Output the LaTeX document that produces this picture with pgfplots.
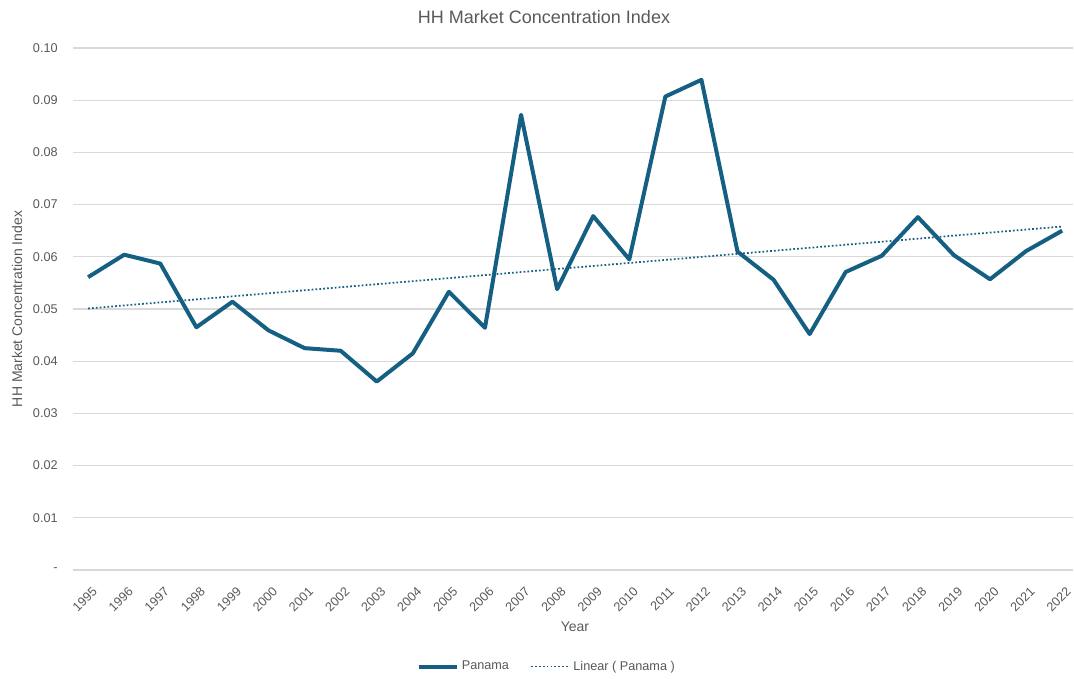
\documentclass[border=0pt]{standalone}
\usepackage{pgfplots}
\pgfplotsset{compat=1.18}
\usepackage{fontspec}
\setmainfont{Liberation Sans}
\definecolor{linec}{HTML}{156082}
\definecolor{gridc}{HTML}{D9D9D9}
\definecolor{txt}{HTML}{595959}
\begin{document}
\begin{tikzpicture}[x=0.75pt,y=0.75pt]
\useasboundingbox (-73,-108) rectangle (1001,570);
\begin{axis}[
  at={(0pt,0pt)}, anchor=south west,
  scale only axis, width=750pt, height=391.5pt,
  xmin=1994.58, xmax=2022.3,
  ymin=0, ymax=0.1,
  axis x line*=bottom,
  axis y line*=left,
  x axis line style={gridc, line width=0.8pt, -},
  y axis line style={draw=none},
  xtick={1995,...,2022},
  xticklabels={1995,1996,1997,1998,1999,2000,2001,2002,2003,2004,2005,2006,2007,2008,2009,2010,2011,2012,2013,2014,2015,2016,2017,2018,2019,2020,2021,2022},
  ytick={0,0.01,0.02,0.03,0.04,0.05,0.06,0.07,0.08,0.09,0.1},
  yticklabels={-,0.01,0.02,0.03,0.04,0.05,0.06,0.07,0.08,0.09,0.10},
  major tick length=0pt,
  ymajorgrids, grid style={gridc, line width=0.8pt},
  tick label style={font=\fontsize{9.5}{11}\selectfont, text=txt},
  xticklabel style={xshift=2.5pt, yshift=-7pt, rotate=45, anchor=north east},
  yticklabel style={xshift=-8pt},
  /pgf/number format/assume math mode=true,
  title={HH Market Concentration Index},
  title style={font=\fontsize{13.5}{16}\selectfont, text=txt, at={(axis description cs:0.471,1)}, anchor=base, yshift=12pt},
  xlabel={Year},
  xlabel style={font=\fontsize{10.5}{12}\selectfont, text=txt, at={(axis description cs:0.502,0)}, anchor=base, yshift=-46pt},
  ylabel={HH Market Concentration Index},
  ylabel style={font=\fontsize{10.5}{12}\selectfont, text=txt, at={(axis description cs:-0.056,0.5)}, anchor=center},
  legend style={draw=none, at={(axis description cs:0.474,-0.185)}, anchor=center, legend columns=2, font=\fontsize{9.5}{11}\selectfont, text=txt, /tikz/every even column/.append style={column sep=14pt}},
  legend image code/.code={\draw[#1] (0pt,0pt) -- (29pt,0pt);},
  legend cell align=left,
  clip=false,
]
\addplot[linec, line width=3pt, line join=round] coordinates {
(1995,0.0561) (1996,0.0604) (1997,0.0587) (1998,0.0465) (1999,0.0514)
(2000,0.0459) (2001,0.0425) (2002,0.0420) (2003,0.0361) (2004,0.0415)
(2005,0.0533) (2006,0.0464) (2007,0.0872) (2008,0.0538) (2009,0.0678)
(2010,0.0595) (2011,0.0907) (2012,0.0939) (2013,0.0610) (2014,0.0556)
(2015,0.0452) (2016,0.0571) (2017,0.0602) (2018,0.0676) (2019,0.0603)
(2020,0.0557) (2021,0.0611) (2022,0.0650)
};
\addlegendentry{Panama}
\addplot[linec, line width=1.3pt, dash pattern=on 1.3pt off 1.6pt] coordinates {
(1995,0.0501) (2022,0.0658)
};
\addlegendentry{Linear ( Panama )}
\end{axis}
\end{tikzpicture}
\end{document}
